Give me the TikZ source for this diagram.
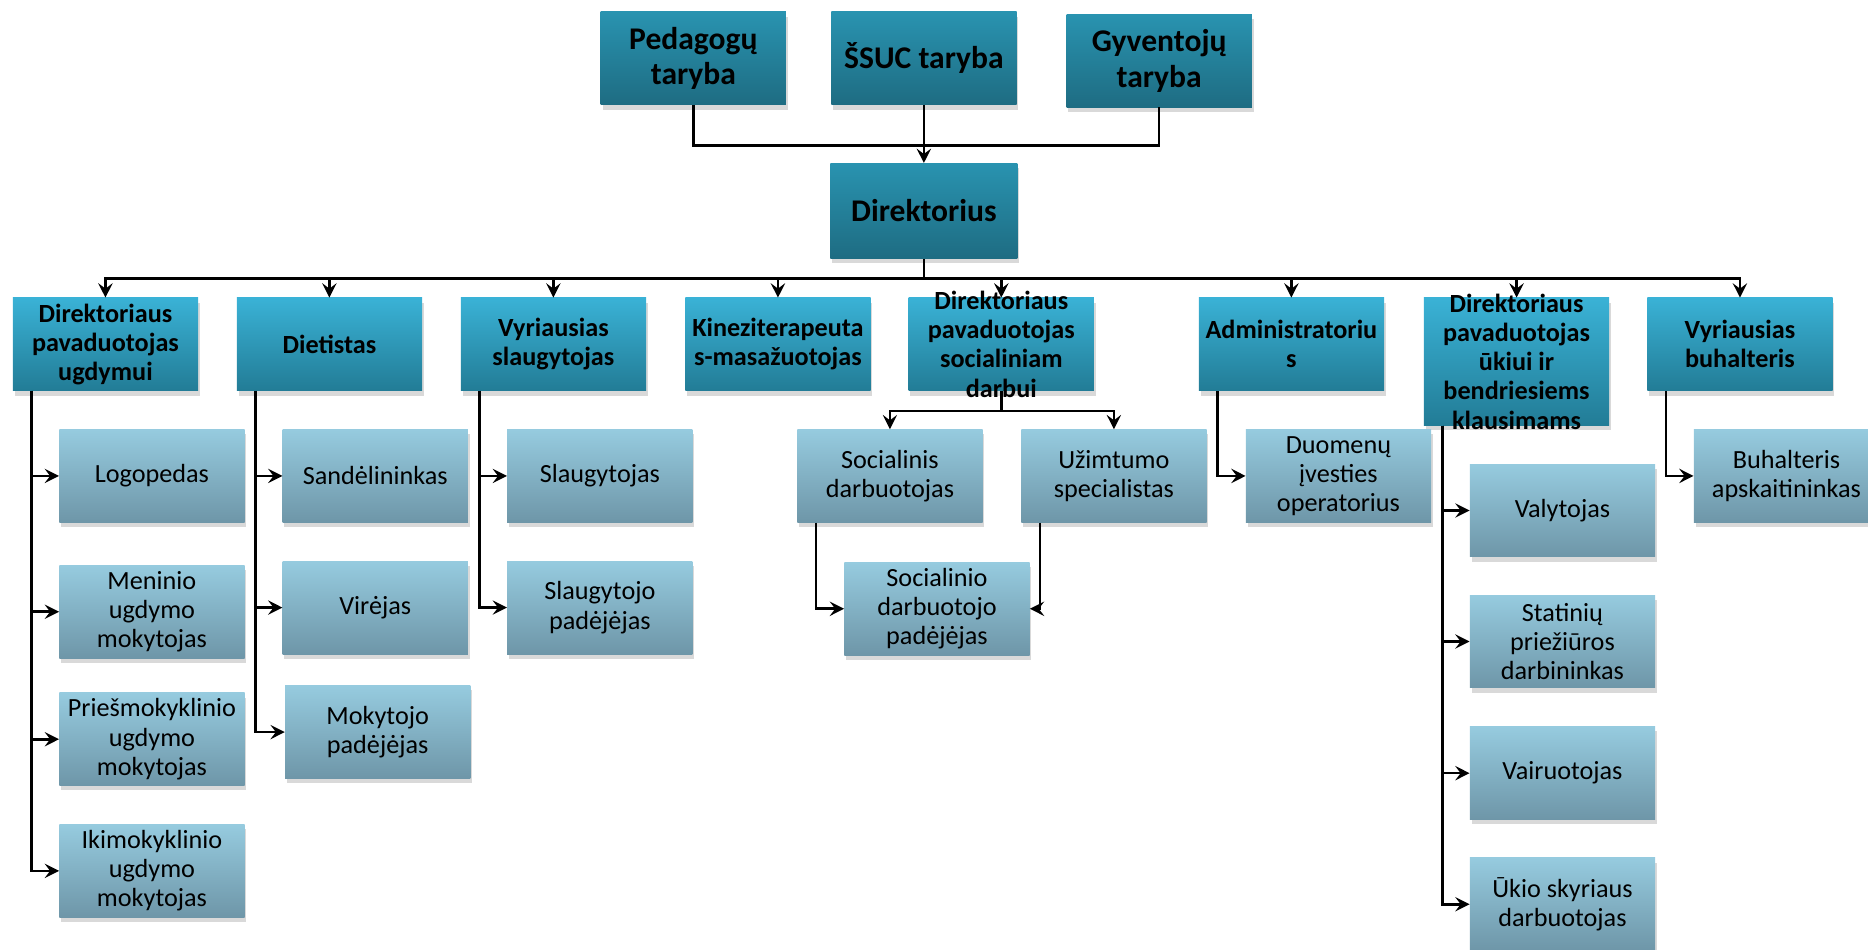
\documentclass[tikz,border=0pt]{standalone}
\usepackage{fontspec}
\setmainfont{Carlito}
\usetikzlibrary{arrows.meta, shadows}

\definecolor{tamsus1}{RGB}{58,178,214}
\definecolor{tamsus2}{RGB}{34,124,150}
\definecolor{taryba1}{RGB}{41,147,176}
\definecolor{taryba2}{RGB}{30,108,130}
\definecolor{sviesus1}{RGB}{150,203,223}
\definecolor{sviesus2}{RGB}{110,150,168}

\begin{document}
\begin{tikzpicture}[x=1pt, y=-1pt]
			\tikzset{vadovas/.style={rectangle, top color=tamsus1, bottom color=tamsus2, minimum width=155.5pt, minimum height=78pt, inner sep=0pt, align=center, font=\fontsize{22}{24.5}\selectfont\bfseries, drop shadow={shadow xshift=1.5pt, shadow yshift=-4pt, opacity=0.3}}, taryba/.style={vadovas, top color=taryba1, bottom color=taryba2, font=\fontsize{26.5}{30}\selectfont\bfseries}, pavaldus/.style={vadovas, top color=sviesus1, bottom color=sviesus2, font=\fontsize{22}{24.5}\selectfont}, tekstas/.style={align=center, inner sep=0pt, font=\fontsize{22}{24.5}\selectfont\bfseries}, linija/.style={line width=2.2pt}, rodykle/.style={linija, -{Stealth[length=12pt, width=12pt, inset=4.5pt]}}};

			\clip (0,0) rectangle (1568,797);

			\node[taryba] (ped)  at ( 582,   49) {Pedagogų\\taryba};
			\node[taryba] (ssuc) at ( 775.5, 49) {ŠSUC taryba};
			\node[taryba] (gyv)  at ( 973,   51) {Gyventojų\\taryba};
			\node[taryba, minimum width=157pt, minimum height=80pt] (dir) at (775.5, 177) {Direktorius};

			\node[vadovas] (b1) at (  88.5, 289) {Direktoriaus\\pavaduotojas\\ugdymui};
			\node[vadovas] (b2) at ( 276.5, 289) {Dietistas};
			\node[vadovas] (b3) at ( 464.5, 289) {Vyriausias\\slaugytojas};
			\node[vadovas] (b4) at ( 653,   289) {Kineziterapeuta\\s-masažuotojas};
			\node[vadovas] (b5) at ( 840.5, 289) {};
			\node[vadovas] (b6) at (1084,   289) {Administratoriu\\s};
			\node[vadovas, minimum height=107pt] (b7) at (1273, 303.5) {};
			\node[vadovas] (b8) at (1460.5, 289) {Vyriausias\\buhalteris};

			\node[pavaldus] (logo)     at ( 127.5, 399.5) {Logopedas};
			\node[pavaldus] (menin)    at ( 127.5, 513.5) {Meninio\\ugdymo\\mokytojas};
			\node[pavaldus] (priesm)   at ( 127.5, 620.5) {Priešmokyklinio\\ugdymo\\mokytojas};
			\node[pavaldus] (ikimok)   at ( 127.5, 731)   {Ikimokyklinio\\ugdymo\\mokytojas};

			\node[pavaldus] (sand)     at ( 315,   399.5) {Sandėlininkas};
			\node[pavaldus] (vir)      at ( 315,   510)   {Virėjas};
			\node[pavaldus] (mokpad)   at ( 317,   614.5) {Mokytojo\\padėjėjas};

			\node[pavaldus] (slaug)    at ( 503.5, 399.5) {Slaugytojas};
			\node[pavaldus] (slaugpad) at ( 503.5, 510)   {Slaugytojo\\padėjėjas};

			\node[pavaldus] (socdarb)  at ( 747,   399.5) {Socialinis\\darbuotojas};
			\node[pavaldus] (uzim)     at ( 935,   399.5) {Užimtumo\\specialistas};
			\node[pavaldus] (socpad)   at ( 786.5, 511)   {Socialinio\\darbuotojo\\padėjėjas};

			\node[pavaldus] (duom)     at (1123.5, 399.5) {Duomenų\\įvesties\\operatorius};

			\node[pavaldus] (valyt)    at (1311.5, 428.5) {Valytojas};
			\node[pavaldus] (statin)   at (1311.5, 538.5) {Statinių\\priežiūros\\darbininkas};
			\node[pavaldus] (vair)     at (1311.5, 649)   {Vairuotojas};
			\node[pavaldus] (ukio)     at (1311.5, 759)   {Ūkio skyriaus\\darbuotojas};

			\node[pavaldus] (buh)      at (1499.5, 399.5) {Buhalteris\\apskaitininkas};

			\coordinate (tarybos)    at (775.5, 122);
			\coordinate (magistrale) at (775.5, 234);
			\coordinate (socialinis) at (840.5, 345);

			\draw[linija]  (ped.south) |- (tarybos);
			\draw[linija]  (gyv.south) |- (tarybos);
			\draw[rodykle] (ssuc) -- (dir);

			\draw[linija]  (dir) -- (magistrale);
			\draw[rodykle] (magistrale) -| (b1);
			\draw[rodykle] (magistrale) -| (b2);
			\draw[rodykle] (magistrale) -| (b3);
			\draw[rodykle] (magistrale) -| (b4);
			\draw[rodykle] (magistrale) -| (b5);
			\draw[rodykle] (magistrale) -| (b6);
			\draw[rodykle] (magistrale) -| (b7);
			\draw[rodykle] (magistrale) -| (b8);

			\draw[rodykle] ([xshift=16pt]b1.south west) |- (logo);
			\draw[rodykle] ([xshift=16pt]b1.south west) |- (menin);
			\draw[rodykle] ([xshift=16pt]b1.south west) |- (priesm);
			\draw[rodykle] ([xshift=16pt]b1.south west) |- (ikimok);

			\draw[rodykle] ([xshift=16pt]b2.south west) |- (sand);
			\draw[rodykle] ([xshift=16pt]b2.south west) |- (vir);
			\draw[rodykle] ([xshift=16pt]b2.south west) |- (mokpad);

			\draw[rodykle] ([xshift=16pt]b3.south west) |- (slaug);
			\draw[rodykle] ([xshift=16pt]b3.south west) |- (slaugpad);

			\draw[linija]  (b5) -- (socialinis);
			\draw[rodykle] (socialinis) -| (socdarb);
			\draw[rodykle] (socialinis) -| (uzim);
			\draw[rodykle] ([xshift=16pt]socdarb.south west) |- (socpad);
			\draw[rodykle] ([xshift=16pt]uzim.south west) |- (socpad);

			\draw[rodykle] ([xshift=16pt]b6.south west) |- (duom);

			\draw[rodykle] ([xshift=16pt]b7.south west) |- (valyt);
			\draw[rodykle] ([xshift=16pt]b7.south west) |- (statin);
			\draw[rodykle] ([xshift=16pt]b7.south west) |- (vair);
			\draw[rodykle] ([xshift=16pt]b7.south west) |- (ukio);

			\draw[rodykle] ([xshift=16pt]b8.south west) |- (buh);

			\node[tekstas] (b5t) at (b5) {Direktoriaus\\pavaduotojas\\socialiniam\\darbui};
			\node[tekstas] (b7t) at (b7) {Direktoriaus\\pavaduotojas\\ūkiui ir\\bendriesiems\\klausimams};

		\end{tikzpicture}
\end{document}
